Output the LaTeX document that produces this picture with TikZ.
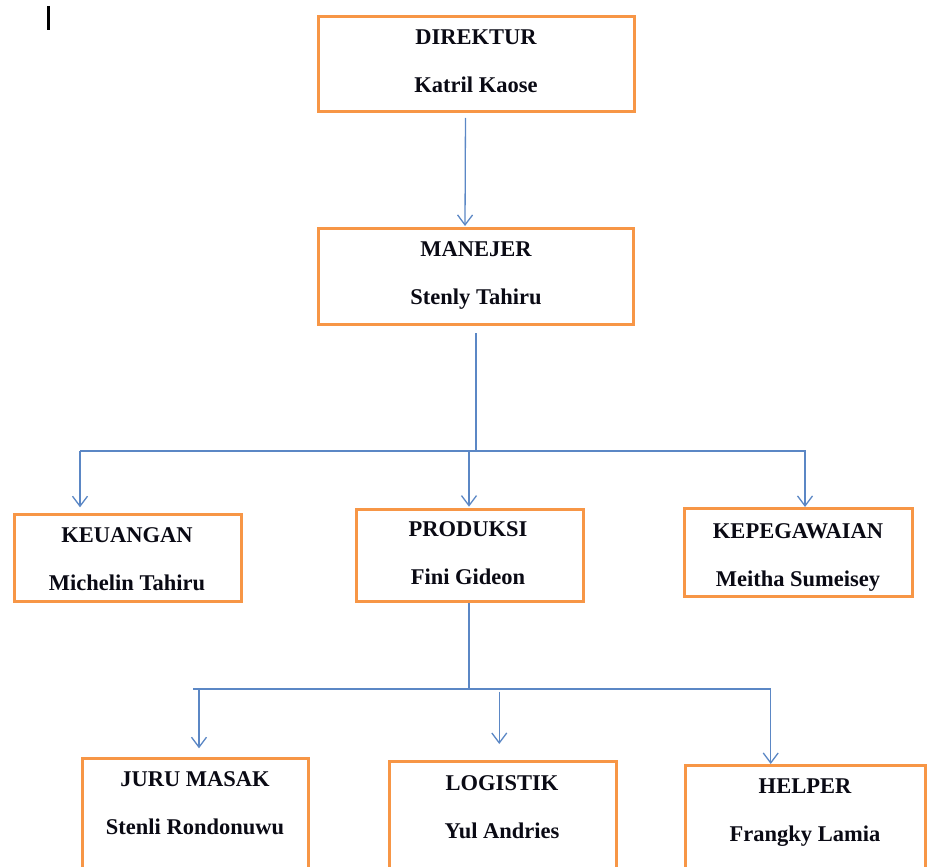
\documentclass[tikz,border=0pt]{standalone}
\usepackage{fontspec}
\setmainfont{Liberation Serif}
\usetikzlibrary{arrows.meta,positioning,calc}
\definecolor{boxorange}{HTML}{F79646}
\definecolor{linkblue}{HTML}{5B87C5}
\definecolor{darktext}{HTML}{0A0A14}

\tikzset{
  unitbox/.style={draw=boxorange, line width=3pt, anchor=north west, inner sep=0pt},
  unittext/.style={anchor=north, inner sep=0pt, align=center, text=darktext,
    font=\fontsize{22.5}{27}\selectfont\bfseries},
  bus/.style={draw=linkblue, line width=1.3pt},
  link/.style={bus, -{Straight Barb[length=10pt,width=15pt]}},
}

\begin{document}
\begin{tikzpicture}[x=1pt,y=-1pt]
\useasboundingbox (0,0) rectangle (930,867);
\clip (0,0) rectangle (930,867);

% cursor mark
\draw[line width=2.4pt] (48.3,6) -- (48.3,30);

% boxes
\node[unitbox, minimum width=316pt, minimum height=95pt] (dir) at (317,15) {};
\node[unitbox, minimum width=315pt, minimum height=96pt] (man) at (317,227) {};
\node[unitbox, minimum width=227pt, minimum height=87pt] (keu) at (13,513) {};
\node[unitbox, minimum width=227pt, minimum height=92pt] (pro) at (355,508) {};
\node[unitbox, minimum width=228pt, minimum height=88pt] (kep) at (683,507) {};
\node[unitbox, minimum width=226pt, minimum height=130pt] (juru) at (81,757) {};
\node[unitbox, minimum width=227pt, minimum height=130pt] (logi) at (388,760) {};
\node[unitbox, minimum width=240pt, minimum height=130pt] (help) at (684,764) {};

% texts
\node[unittext] (dirtext) at (476,30) {DIREKTUR\\[21pt]Katril Kaose};
\node[unittext] (mantext) at (476,241.7) {MANEJER\\[21pt]Stenly Tahiru};
\node[unittext] (keutext) at (127,527) {KEUANGAN\\[21pt]Michelin Tahiru};
\node[unittext] (protext) at (468,521.7) {PRODUKSI\\[21pt]Fini Gideon};
\node[unittext] (keptext) at (798,523.3) {KEPEGAWAIAN\\[21pt]Meitha Sumeisey};
\node[unittext] (jurutext) at (195,771.7) {JURU MASAK\\[21pt]Stenli Rondonuwu};
\node[unittext] (logitext) at (502,775) {LOGISTIK\\[21pt]Yul Andries};
\node[unittext] (helptext) at (805,778.3) {HELPER\\[21pt]Frangky Lamia};

% bus points
\coordinate (mbusL) at (80,451);
\coordinate (mbusM) at (469,451);
\coordinate (mbusR) at (805,451);
\coordinate (pbusL) at (193,689);
\coordinate (pbusJ) at (199,689);
\coordinate (pbusM) at (499.3,689);
\coordinate (pbusR) at (770.7,689);

% connectors
\draw[link, shorten <=5pt, shorten >=1pt] ([xshift=-11pt]dir.south) -- ([xshift=-11pt]man.north);
\draw[bus, shorten <=7pt] (man.south) -- (man.south |- mbusL);
\draw[bus] (mbusL) -- (man.south |- mbusL);
\draw[link] (man.south |- mbusL) -- (mbusR) -- (mbusR |- kep.north);
\draw[link, shorten >=5.7pt] (mbusL) -- (mbusL |- keu.north);
\draw[link, shorten >=1.3pt] (mbusM) -- (mbusM |- pro.north);

\draw[bus] ([xshift=-1pt]pro.south) -- ([xshift=-1pt]pro.south |- pbusL);
\draw[bus] (pbusL) -- ([xshift=-1pt]pro.south |- pbusL);
\draw[link] ([xshift=-1pt]pro.south |- pbusL) -- (pbusR) -- (pbusR |- help.north);
\draw[link, shorten >=8.7pt] (pbusJ) -- (pbusJ |- juru.north);
\draw[link, shorten <=2.7pt, shorten >=16pt] (pbusM) -- (pbusM |- logi.north);
\end{tikzpicture}
\end{document}
